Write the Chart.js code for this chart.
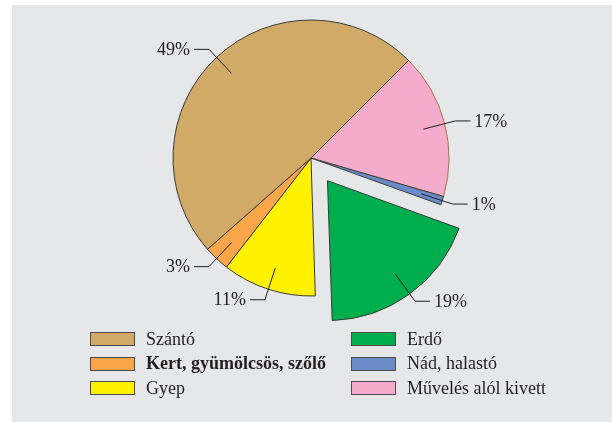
<!DOCTYPE html>
<html>
<head>
<meta charset="utf-8">
<script src="https://cdn.jsdelivr.net/npm/chart.js@4"></script>
<style>
  body { margin: 0; background: #ffffff; }
  #wrap { position: relative; width: 612px; height: 422px; overflow: hidden; }
  #panel { position: absolute; left: 12px; top: 5px; width: 600px; height: 417px; background: #e6e7e9; }
  #pie { position: absolute; left: 0; top: 0; }
  .item { position: absolute; height: 16px; display: flex; align-items: center;
          font-family: "Liberation Serif", "Times New Roman", "DejaVu Serif", serif; font-size: 18px; color: #231f20; white-space: nowrap; }
  .box { width: 43px; height: 12px; border: 1px solid #4a4a4a; margin-right: 11px; flex: none; }
</style>
</head>
<body>
<div id="wrap">
  <div id="panel"></div>
  <canvas id="pie" width="612" height="422"></canvas>
  <div id="legend"></div>
</div>
<script>
// Categories in legend order
const categories = ["Szántó", "Kert, gyümölcsös, szőlő", "Gyep", "Erdő", "Nád, halastó", "Művelés alól kivett"];
// Share of each category, %
const shares = [49, 3, 11, 19, 1, 17];
// Colours of each category
const colors = ["#d2aa68", "#f9a54a", "#fff200", "#00ae4d", "#6b8cc7", "#f4abcc"];
const borders = ["#3a3a3a", "#3a3a3a", "#3a3a3a", "#3a3a3a", "#3a3a3a", "#a8763f"];
// Exploded slice
const exploded = "Erdő";

// The pie runs clockwise in the reverse of the legend order
const pieLabels = categories.slice().reverse();
const pieData = shares.slice().reverse();
const pieColors = colors.slice().reverse();
const pieBorders = borders.slice().reverse();
// Chart.js moves an arc by offset / 4
const pieOffsets = pieLabels.map((c) => (c === exploded ? 112 : 0));

const labelFont = "18px 'Liberation Serif', 'Times New Roman', 'DejaVu Serif', serif";

// Percent labels with leader lines
const leaderLabels = {
  id: "leaderLabels",
  afterDatasetsDraw(chart) {
    const ctx = chart.ctx;
    const meta = chart.getDatasetMeta(0);
    ctx.save();
    ctx.strokeStyle = "#231f20";
    ctx.lineWidth = 1;
    ctx.fillStyle = "#231f20";
    ctx.font = labelFont;
    ctx.textBaseline = "middle";
    meta.data.forEach((arc, i) => {
      const p = arc.getProps(["x", "y", "startAngle", "endAngle", "outerRadius"], true);
      const mid = (p.startAngle + p.endAngle) / 2;
      const off = (arc.options.offset || 0) / 4;
      const cx = p.x + Math.cos(mid) * off;
      const cy = p.y + Math.sin(mid) * off;
      const r = p.outerRadius;
      const x1 = cx + Math.cos(mid) * r * 0.84;
      const y1 = cy + Math.sin(mid) * r * 0.84;
      const x2 = cx + Math.cos(mid) * r * 1.08;
      const y2 = cy + Math.sin(mid) * r * 1.08;
      const dir = Math.cos(mid) >= 0 ? 1 : -1;
      const x3 = x2 + dir * 15;
      ctx.beginPath();
      ctx.moveTo(x1, y1);
      ctx.lineTo(x2, y2);
      ctx.lineTo(x3, y2);
      ctx.stroke();
      ctx.textAlign = dir > 0 ? "left" : "right";
      ctx.fillText(chart.data.datasets[0].data[i] + "%", x3 + dir * 4, y2 + 1);
    });
    ctx.restore();
  },
};

const myChart = new Chart(document.getElementById("pie"), {
  type: "pie",
  plugins: [leaderLabels],
  data: {
    labels: pieLabels,
    datasets: [
      {
        data: pieData,
        backgroundColor: pieColors,
        borderColor: pieBorders,
        borderWidth: 1,
        offset: pieOffsets,
      },
    ],
  },
  options: {
    responsive: false,
    animation: false,
    events: [],
    rotation: 45,
    radius: 138,
    layout: { padding: { left: 10, right: 0, top: 0, bottom: 106 } },
    plugins: {
      legend: { display: false },
      tooltip: { enabled: false },
    },
  },
});

// Legend in two columns of three
const legend = document.getElementById("legend");
categories.forEach((name, i) => {
  const col = Math.floor(i / 3);
  const row = i % 3;
  const item = document.createElement("div");
  item.className = "item";
  item.style.left = (col === 0 ? 90 : 351) + "px";
  item.style.top = (331 + row * 24.5) + "px";
  if (name.startsWith("Kert")) item.style.fontWeight = "bold";
  item.innerHTML = `<span class="box" style="background:${colors[i]}"></span><span>${name}</span>`;
  legend.appendChild(item);
});
</script>
</body>
</html>
